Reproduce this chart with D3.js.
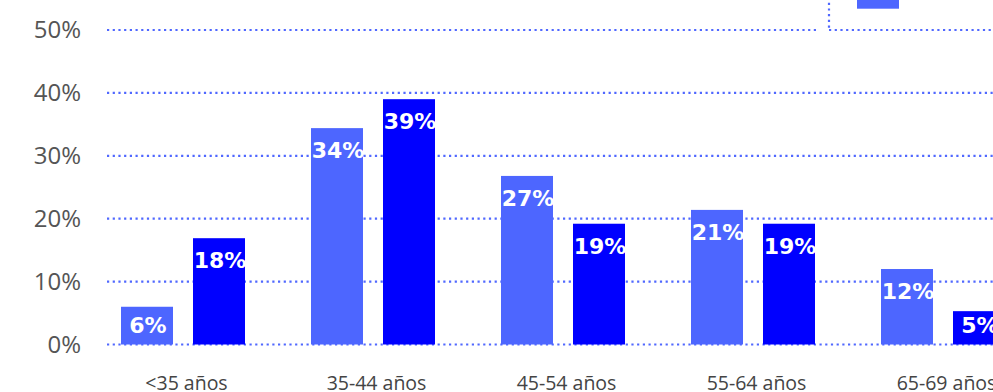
<!DOCTYPE html>
<html>
<head>
<meta charset="utf-8">
<script src="https://cdn.jsdelivr.net/npm/d3@7"></script>
<style>
  html, body { margin: 0; padding: 0; background: #fff; }
  svg { display: block; }
</style>
</head>
<body>
<svg id="chart" width="993" height="392"></svg>
<script>
// ---- data ----
const categories = ["<35 años", "35-44 años", "45-54 años", "55-64 años", "65-69 años"];
const seriesNames = ["serie A", "serie B"];
const seriesA = [6.0, 34.4, 26.8, 21.4, 12.0];
const seriesB = [16.9, 39.0, 19.2, 19.2, 5.3];
const labelsA = ["6%", "34%", "27%", "21%", "12%"];
const labelsB = ["18%", "39%", "19%", "19%", "5%"];
const yTicks = [0, 10, 20, 30, 40, 50];

const colors = ["#4d66ff", "#0000ff"];
const gridColor = "#5068ff";

const svg = d3.select("#chart");

const y = d3.scaleLinear().domain([0, 50]).range([344.5, 30]);
const x0 = d3.scaleBand().domain(categories).range([91.5, 1041.5]).padding(0);
const x1 = d3.scaleBand().domain(seriesNames).range([29.5, 153.5]).paddingInner(0.2778).paddingOuter(0);

const gridLeft = 107, gridRight = 1000;

// gridlines
svg.append("g").selectAll("line").data(yTicks).join("line")
  .attr("x1", gridLeft).attr("x2", gridRight)
  .attr("y1", d => y(d)).attr("y2", d => y(d))
  .attr("stroke", gridColor).attr("stroke-width", 2.2)
  .attr("stroke-dasharray", "2.2 3.5");

// y axis labels
const yAxis = d3.axisLeft(y).tickValues(yTicks).tickFormat(d => d + "%").tickSize(0).tickPadding(0);
const gy = svg.append("g").attr("transform", "translate(81,0)").call(yAxis);
gy.select(".domain").remove();
gy.selectAll("text")
  .attr("font-family", "'Open Sans', 'Noto Sans', sans-serif")
  .attr("font-size", 24).attr("fill", "#555")
  .attr("dy", "0.33em");

// x axis labels
const xAxis = d3.axisBottom(x0).tickSize(0).tickPadding(0);
const gx = svg.append("g").attr("transform", "translate(0,390)").call(xAxis);
gx.select(".domain").remove();
gx.selectAll("text")
  .attr("font-family", "'Open Sans', 'Noto Sans', sans-serif")
  .attr("font-size", 19.5).attr("fill", "#444")
  .attr("dy", 0).attr("y", 0);

// bars
const rows = categories.map((c, i) => ({
  cat: c,
  items: [
    { s: seriesNames[0], v: seriesA[i], label: labelsA[i], color: colors[0] },
    { s: seriesNames[1], v: seriesB[i], label: labelsB[i], color: colors[1] }
  ]
}));

const defs = svg.append("defs");
let clipId = 0;

const groups = svg.append("g").selectAll("g").data(rows).join("g")
  .attr("transform", d => `translate(${x0(d.cat)},0)`);

groups.each(function(row) {
  const g = d3.select(this);
  row.items.forEach(it => {
    const bx = x1(it.s), bw = x1.bandwidth();
    const top = y(it.v), bottom = y(0);
    g.append("rect")
      .attr("x", bx).attr("y", top)
      .attr("width", bw).attr("height", bottom - top)
      .attr("fill", it.color);
    const id = "clip" + (clipId++);
    defs.append("clipPath").attr("id", id)
      .append("rect").attr("x", bx).attr("y", top).attr("width", bw).attr("height", bottom - top);
    g.append("text")
      .attr("clip-path", `url(#${id})`)
      .attr("x", bx + bw / 2 + 1)
      .attr("y", Math.min(top + 30, bottom - 12))
      .attr("text-anchor", "middle")
      .attr("font-family", "'DejaVu Sans', Verdana, sans-serif")
      .attr("font-weight", "bold")
      .attr("font-size", 22)
      .attr("fill", "#fff")
      .text(it.label);
  });
});

// legend (cut off at top of view)
const legend = svg.append("g");
legend.append("rect").attr("x", 816).attr("y", -60).attr("width", 200).attr("height", 91).attr("fill", "#fff");
legend.append("line").attr("x1", 829).attr("x2", 829).attr("y1", -60).attr("y2", 30)
  .attr("stroke", gridColor).attr("stroke-width", 2.2).attr("stroke-dasharray", "2.2 3.5");
legend.append("line").attr("x1", 829).attr("x2", 1000).attr("y1", 30).attr("y2", 30)
  .attr("stroke", gridColor).attr("stroke-width", 2.2).attr("stroke-dasharray", "2.2 3.5");
legend.append("rect").attr("x", 857).attr("y", -12).attr("width", 42).attr("height", 20.7).attr("fill", colors[0]);
</script>
</body>
</html>
